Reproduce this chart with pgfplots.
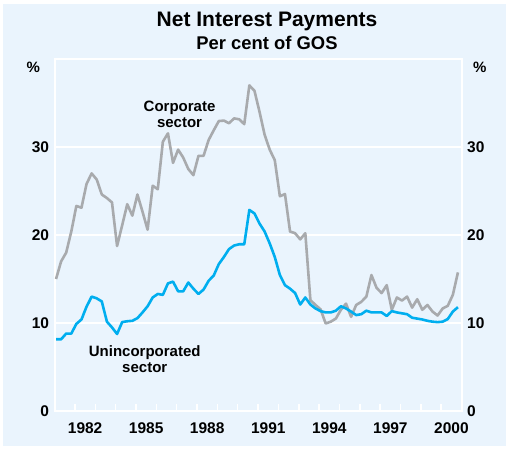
\documentclass[border=0pt]{standalone}
\usepackage{fontspec}
\setmainfont{Liberation Sans}
\usepackage{pgfplots}
\pgfplotsset{compat=1.18}
\usepackage{pgfplotstable}
\definecolor{bgc}{RGB}{234,244,253}
\definecolor{corp}{RGB}{168,170,173}
\definecolor{unin}{RGB}{0,174,239}
\pgfplotstableread{
t corp unin
1981.07 15.0 8.15
1981.32 17.0 8.15
1981.57 18.0 8.8
1981.82 20.4 8.8
1982.07 23.3 9.9
1982.32 23.1 10.4
1982.57 25.8 11.85
1982.82 27.0 13.0
1983.07 26.3 12.8
1983.32 24.6 12.45
1983.57 24.2 10.15
1983.82 23.7 9.5
1984.07 18.75 8.75
1984.32 21.1 10.1
1984.57 23.5 10.2
1984.82 22.2 10.25
1985.07 24.6 10.55
1985.32 22.65 11.2
1985.57 20.6 11.9
1985.82 25.6 12.9
1986.07 25.2 13.3
1986.32 30.6 13.2
1986.57 31.55 14.5
1986.82 28.2 14.7
1987.07 29.7 13.6
1987.32 28.8 13.6
1987.57 27.5 14.6
1987.82 26.8 13.9
1988.07 29.0 13.3
1988.32 29.0 13.8
1988.57 30.8 14.8
1988.82 31.9 15.4
1989.07 32.95 16.7
1989.32 33.0 17.5
1989.57 32.7 18.4
1989.82 33.25 18.8
1990.07 33.15 18.95
1990.32 32.6 18.95
1990.57 37.0 22.85
1990.82 36.4 22.45
1991.07 34.0 21.3
1991.32 31.4 20.4
1991.57 29.7 19.05
1991.82 28.5 17.5
1992.07 24.4 15.45
1992.32 24.65 14.3
1992.57 20.4 13.9
1992.82 20.2 13.4
1993.07 19.5 12.1
1993.32 20.2 12.9
1993.57 12.6 12.1
1993.82 12.05 11.65
1994.07 11.55 11.35
1994.32 9.95 11.2
1994.57 10.15 11.2
1994.82 10.5 11.4
1995.07 11.5 11.9
1995.32 12.2 11.65
1995.57 10.7 11.3
1995.82 12.05 10.9
1996.07 12.4 11.0
1996.32 13.0 11.4
1996.57 15.45 11.2
1996.82 14.0 11.2
1997.07 13.4 11.2
1997.32 14.3 10.8
1997.57 11.5 11.35
1997.82 12.9 11.2
1998.07 12.55 11.1
1998.32 13.0 11.0
1998.57 11.75 10.6
1998.82 12.7 10.5
1999.07 11.5 10.4
1999.32 12.05 10.25
1999.57 11.3 10.15
1999.82 10.85 10.1
2000.07 11.65 10.15
2000.32 11.95 10.45
2000.57 13.2 11.3
2000.82 15.75 11.8
}\data
\begin{document}
\begin{tikzpicture}[x=1pt,y=1pt]
\fill[white] (0,0) rectangle (509,448);
\fill[bgc] (3,2) rectangle (506,444);
\useasboundingbox (0,0) rectangle (509,448);
\node[font=\fontsize{21}{21}\selectfont\bfseries] at (267,426.3) {Net Interest Payments};
\node[font=\fontsize{18.4}{18.4}\selectfont\bfseries] at (267,404.7) {Per cent of GOS};
\begin{axis}[
  at={(54.6pt,37pt)}, anchor=south west,
  scale only axis, width=407pt, height=352pt,
  xmin=1981, xmax=2001, ymin=0, ymax=40,
  axis line style={draw=white, line width=2pt},
  ytick={0,10,20,30},
  ymajorgrids, grid style={white, line width=1.5pt},
  ytick style={draw=none},
  xtick={1982,...,2000}, xticklabels={},
  xtick pos=bottom, tick align=inside,
  xtick style={white, line width=1.5pt},
  major tick length=7pt,
  extra x ticks={1982.5,1985.5,1988.5,1991.5,1994.5,1997.5,2000.5},
  extra x tick labels={1982,1985,1988,1991,1994,1997,2000},
  extra x tick style={major tick length=0pt, grid=none, xticklabel style={yshift=-8pt}},
  /pgf/number format/assume math mode=true,
  ticklabel style={font=\fontsize{15.5}{16}\selectfont\bfseries},
  yticklabel style={xshift=-2pt},
  clip=false,
]
\addplot[corp, line width=2.6pt, line join=round] table[x=t, y=corp] {\data};
\addplot[unin, line width=2.6pt, line join=round] table[x=t, y=unin] {\data};
\node[font=\fontsize{15}{16}\selectfont\bfseries, align=center] at (axis cs:1987.14,33.75) {Corporate\\sector};
\node[font=\fontsize{15}{16}\selectfont\bfseries, align=center] at (axis cs:1985.43,5.94) {Unincorporated\\sector};
\node[font=\fontsize{15}{15}\selectfont\bfseries, anchor=east] at (rel axis cs:0,0.977) [xshift=-11pt] {\%};
\node[font=\fontsize{15}{15}\selectfont\bfseries, anchor=west] at (rel axis cs:1,0.977) [xshift=8pt] {\%};
\end{axis}
\begin{axis}[
  at={(54.6pt,37pt)}, anchor=south west,
  scale only axis, width=407pt, height=352pt,
  xmin=1981, xmax=2001, ymin=0, ymax=40,
  axis x line=none, axis y line*=right,
  y axis line style={draw=none},
  ytick={0,10,20,30}, ytick style={draw=none},
  /pgf/number format/assume math mode=true,
  yticklabel style={font=\fontsize{15.5}{16}\selectfont\bfseries, xshift=2pt},
]
\end{axis}
\end{tikzpicture}
\end{document}
